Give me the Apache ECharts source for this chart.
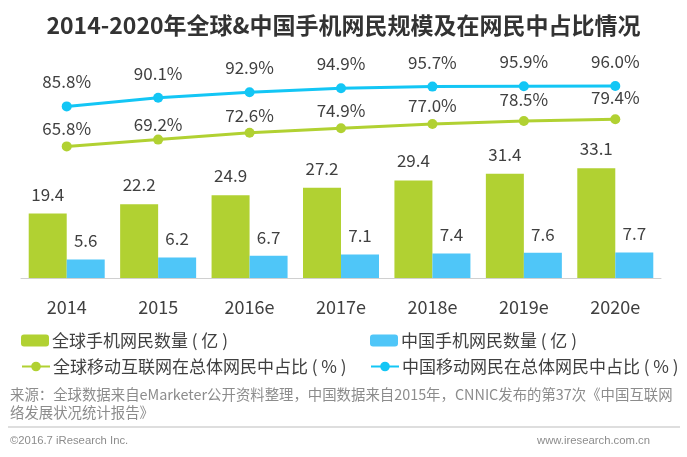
<!DOCTYPE html>
<html>
<head>
<meta charset="utf-8">
<style>
html,body{margin:0;padding:0;background:#fff;}
#chart{width:687px;height:457px;}
</style>
<script src="https://cdn.jsdelivr.net/npm/echarts@6/dist/echarts.min.js"></script>
</head>
<body>
<div id="chart"></div>
<script>
var years = ['2014','2015','2016e','2017e','2018e','2019e','2020e'];
var globalUsers = [19.4,22.2,24.9,27.2,29.4,31.4,33.1];
var chinaUsers = [5.6,6.2,6.7,7.1,7.4,7.6,7.7];
var globalShare = [65.8,69.2,72.6,74.9,77.0,78.5,79.4];
var chinaShare = [85.8,90.1,92.9,94.9,95.7,95.9,96.0];
//绿线标签的上下微调
var globalLabelDy = [4,6,4,4,3,0,0];

var green = '#b1d132';
var blue = '#4fc6f8';
var cyan = '#13c6f5';
var font = '"Noto Sans CJK SC", sans-serif';
var textColor = '#404040';

var chart = echarts.init(document.getElementById('chart'));

//图例
function legendAt(name, left, top) {
    return {
        data: [name],
        left: left,
        top: top,
        itemWidth: 28,
        itemHeight: 12,
        itemGap: 0,
        padding: 0,
        textStyle: {fontFamily: font, fontSize: 17, color: textColor, padding: [0, 0, 0, -2]}
    };
}

function barSeries(name, values, color, distance) {
    return {
        name: name,
        type: 'bar',
        data: values,
        barWidth: 38,
        barGap: 0,
        itemStyle: {color: color},
        label: {
            show: true,
            position: 'top',
            distance: distance,
            fontFamily: font,
            fontSize: 17,
            color: textColor,
            formatter: function (p) { return p.value.toFixed(1); }
        }
    };
}

function lineSeries(name, values, color, distance, offsets) {
    return {
        name: name,
        type: 'line',
        yAxisIndex: 1,
        data: values.map(function (v, i) {
            return offsets ? {value: v, label: {offset: [0, offsets[i]]}} : v;
        }),
        symbol: 'circle',
        symbolSize: 10,
        lineStyle: {color: color, width: 3},
        itemStyle: {color: color},
        label: {
            show: true,
            position: 'top',
            distance: distance,
            fontFamily: font,
            fontSize: 17,
            color: textColor,
            formatter: function (p) { return p.value.toFixed(1) + '%'; }
        }
    };
}

var names = ['全球手机网民数量 ( 亿 )','中国手机网民数量 ( 亿 )','全球移动互联网在总体网民中占比 ( % )','中国移动网民在总体网民中占比 ( % )'];

chart.setOption({
    animation: false,
    backgroundColor: '#fff',
    title: {
        text: '2014-2020年全球&中国手机网民规模及在网民中占比情况',
        left: 'center',
        top: 14,
        padding: 0,
        textStyle: {fontFamily: font, fontSize: 23, fontWeight: 'bold', color: '#333'}
    },
    legend: [
        legendAt(names[0], 21, 332),
        legendAt(names[1], 370, 332),
        legendAt(names[2], 21, 358),
        legendAt(names[3], 370, 358)
    ],
    grid: {left: 21, right: 26, top: 50, bottom: 179},
    xAxis: {
        type: 'category',
        data: years,
        axisTick: {show: false},
        axisLine: {lineStyle: {color: '#d0d0d0', width: 1}},
        axisLabel: {fontFamily: font, fontSize: 18, color: textColor, margin: 20}
    },
    yAxis: [
        {type: 'value', min: 0, max: 68.7, show: false},
        {type: 'value', min: 0, max: 114, show: false}
    ],
    series: [
        barSeries(names[0], globalUsers, green, 11),
        barSeries(names[1], chinaUsers, blue, 10),
        lineSeries(names[2], globalShare, green, 8, globalLabelDy),
        lineSeries(names[3], chinaShare, cyan, 11)
    ],
    graphic: [
        {type: 'text', left: 10, top: 386, style: {
            text: '来源：全球数据来自eMarketer公开资料整理，中国数据来自2015年，CNNIC发布的第37次《中国互联网\n络发展状况统计报告》',
            fontFamily: font, fontSize: 14.4, lineHeight: 18, fill: '#8c8c8c'
        }},
        {type: 'line', shape: {x1: 8, y1: 427, x2: 680, y2: 427}, style: {stroke: '#bdbdbd', lineWidth: 1}},
        {type: 'text', left: 10, top: 435, style: {
            text: '©2016.7 iResearch Inc.', fontFamily: '"Liberation Sans", sans-serif', fontSize: 11.3, fill: '#8c8c8c'
        }},
        {type: 'text', left: 537, top: 435, style: {
            text: 'www.iresearch.com.cn', fontFamily: '"Liberation Sans", sans-serif', fontSize: 11.3, fill: '#8c8c8c'
        }}
    ]
});
</script>
</body>
</html>
